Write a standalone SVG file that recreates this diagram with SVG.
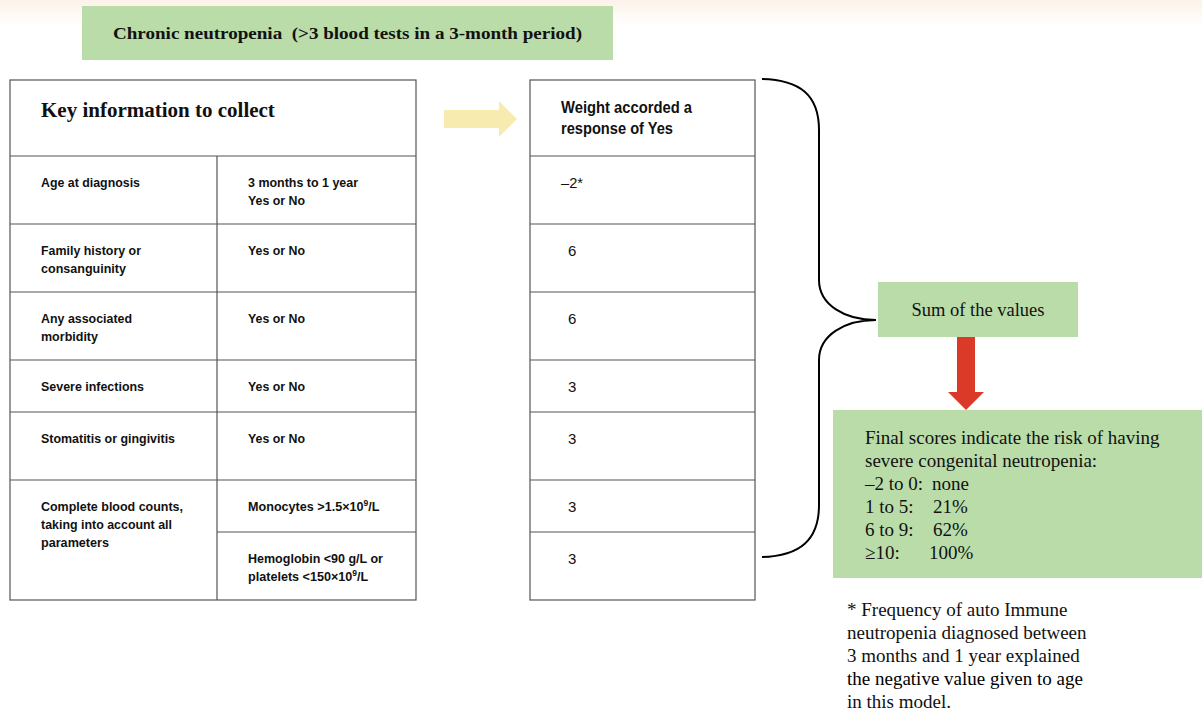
<svg xmlns="http://www.w3.org/2000/svg" width="1202" height="713" viewBox="0 0 1202 713">
<defs>
<linearGradient id="topfade" x1="0" y1="0" x2="0" y2="1">
<stop offset="0" stop-color="#fcf2e9"/>
<stop offset="1" stop-color="#ffffff"/>
</linearGradient>
</defs>
<style>
.green{fill:#badca9}
.cell{fill:#ffffff;stroke:#555555;stroke-width:1.2}
.grid{stroke:#555555;stroke-width:1.2;fill:none}
.row{font-family:"Liberation Sans",Arial,sans-serif;font-weight:bold;font-size:13.5px;fill:#111111}
.rowsm{font-family:"Liberation Sans",Arial,sans-serif;font-weight:bold;font-size:12.6px;fill:#111111}
.hdr{font-family:"Liberation Sans",Arial,sans-serif;font-weight:bold;font-size:16px;fill:#111111}
.val{font-family:"Liberation Sans",Arial,sans-serif;font-size:15px;fill:#111111}
.serif{font-family:"Liberation Serif","Times New Roman",serif;fill:#111111}
.sup{font-size:8.5px}
.brace{fill:none;stroke:#000000;stroke-width:2}
</style>
<rect x="0" y="0" width="1202" height="26" fill="url(#topfade)"/>

<g id="title">
<rect class="green" x="82" y="6" width="531" height="54"/>
<text class="serif" x="113" y="39" font-size="17" font-weight="bold" xml:space="preserve" textLength="469" lengthAdjust="spacingAndGlyphs">Chronic neutropenia  (&gt;3 blood tests in a 3-month period)</text>
</g>

<g id="key-table">
<rect class="cell" x="10" y="80" width="406" height="520"/>
<path class="grid" d="M10 156H416M10 224H416M10 292H416M10 360H416M10 412H416M10 480H416M217 532H416M217 156V600"/>
<text class="serif" x="41" y="117" font-size="21" font-weight="bold">Key information to collect</text>
<text class="row" x="41" y="187" textLength="99" lengthAdjust="spacingAndGlyphs">Age at diagnosis</text>
<text class="row" x="248" y="187" textLength="110" lengthAdjust="spacingAndGlyphs">3 months to 1 year</text>
<text class="row" x="248" y="205" textLength="57" lengthAdjust="spacingAndGlyphs">Yes or No</text>
<text class="row" x="41" y="255" textLength="100" lengthAdjust="spacingAndGlyphs">Family history or</text>
<text class="row" x="41" y="273" textLength="85" lengthAdjust="spacingAndGlyphs">consanguinity</text>
<text class="row" x="248" y="255" textLength="57" lengthAdjust="spacingAndGlyphs">Yes or No</text>
<text class="row" x="41" y="323" textLength="91" lengthAdjust="spacingAndGlyphs">Any associated</text>
<text class="row" x="41" y="341" textLength="57" lengthAdjust="spacingAndGlyphs">morbidity</text>
<text class="row" x="248" y="323" textLength="57" lengthAdjust="spacingAndGlyphs">Yes or No</text>
<text class="row" x="41" y="391" textLength="103" lengthAdjust="spacingAndGlyphs">Severe infections</text>
<text class="row" x="248" y="391" textLength="57" lengthAdjust="spacingAndGlyphs">Yes or No</text>
<text class="row" x="41" y="443" textLength="134" lengthAdjust="spacingAndGlyphs">Stomatitis or gingivitis</text>
<text class="row" x="248" y="443" textLength="57" lengthAdjust="spacingAndGlyphs">Yes or No</text>
<text class="row" x="41" y="511" textLength="142" lengthAdjust="spacingAndGlyphs">Complete blood counts,</text>
<text class="row" x="41" y="529" textLength="131" lengthAdjust="spacingAndGlyphs">taking into account all</text>
<text class="row" x="41" y="547" textLength="68" lengthAdjust="spacingAndGlyphs">parameters</text>
<text class="rowsm" x="248" y="511">Monocytes &gt;1.5×10<tspan class="sup" dy="-5">9</tspan><tspan dy="5">/L</tspan></text>
<text class="row" x="248" y="563" textLength="135" lengthAdjust="spacingAndGlyphs">Hemoglobin &lt;90 g/L or</text>
<text class="rowsm" x="248" y="581">platelets &lt;150×10<tspan class="sup" dy="-5">9</tspan><tspan dy="5">/L</tspan></text>
</g>

<g id="weight-table">
<rect class="cell" x="530" y="80" width="225" height="520"/>
<path class="grid" d="M530 156H755M530 224H755M530 292H755M530 360H755M530 412H755M530 480H755M530 532H755"/>
<text class="hdr" x="561" y="113" textLength="131" lengthAdjust="spacingAndGlyphs">Weight accorded a</text>
<text class="hdr" x="561" y="134" textLength="112" lengthAdjust="spacingAndGlyphs">response of Yes</text>
<text class="val" x="561" y="188" textLength="22" lengthAdjust="spacingAndGlyphs">–2*</text>
<text class="val" x="568" y="256">6</text>
<text class="val" x="568" y="324">6</text>
<text class="val" x="568" y="392">3</text>
<text class="val" x="568" y="444">3</text>
<text class="val" x="568" y="512">3</text>
<text class="val" x="568" y="564">3</text>
</g>

<g id="sum">
<rect class="green" x="878" y="282" width="200" height="55"/>
<text class="serif" x="978" y="316" font-size="18.5" text-anchor="middle">Sum of the values</text>
</g>

<g id="final">
<rect class="green" x="833" y="410" width="369" height="168"/>
<text class="serif" font-size="19">
<tspan x="865" y="444">Final scores indicate the risk of having</tspan>
<tspan x="865" y="467">severe congenital neutropenia:</tspan>
<tspan x="865" y="490">–2 to 0:</tspan><tspan x="932" y="490">none</tspan>
<tspan x="865" y="513">1 to 5:</tspan><tspan x="933" y="513">21%</tspan>
<tspan x="865" y="536">6 to 9:</tspan><tspan x="933" y="536">62%</tspan>
<tspan x="865" y="559">≥10:</tspan><tspan x="929" y="559">100%</tspan>
</text>
</g>

<g id="footnote">
<text class="serif" font-size="19" fill="#222222">
<tspan x="847" y="616">* Frequency of auto Immune</tspan>
<tspan x="847" y="639">neutropenia diagnosed between</tspan>
<tspan x="847" y="662">3 months and 1 year explained</tspan>
<tspan x="847" y="685" fill="#000000">the negative value given to age</tspan>
<tspan x="847" y="708">in this model.</tspan>
</text>
</g>

<g id="connectors">
<polygon points="444,110 499,110 499,101 517,119 499,137 499,128 444,128" fill="#f8ebb0"/>
<path class="brace" d="M762 79C800 80 819 95 819 130L819 280C819 305 845 320 876 320C845 320 819 335 819 360L819 505C819 540 800 556 762 557"/>
<polygon points="957,337 975,337 975,392 984,392 966,410 948,392 957,392" fill="#dc3a28"/>
</g>
</svg>
